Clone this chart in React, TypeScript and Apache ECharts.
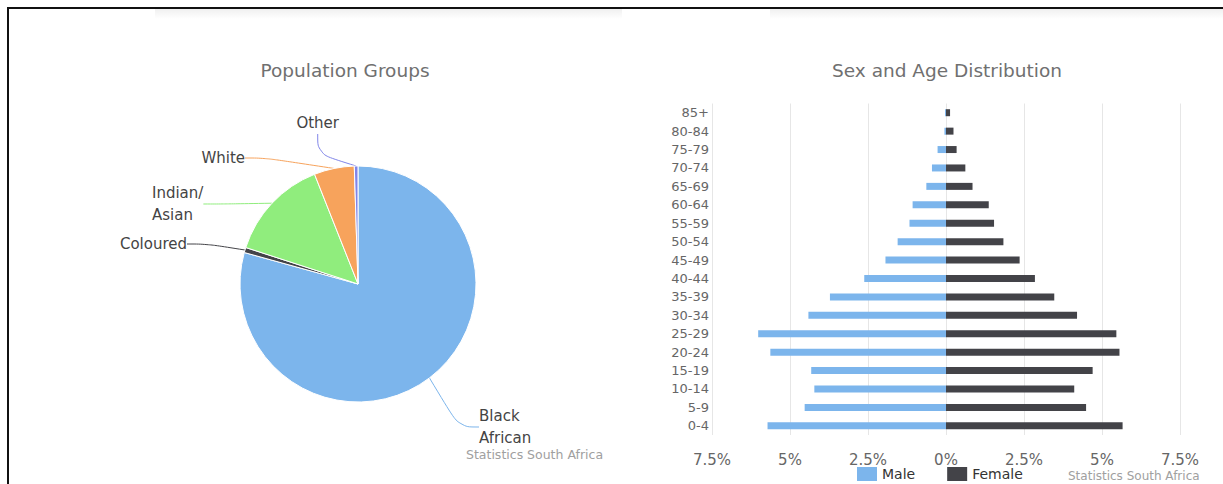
import React, { useEffect, useRef } from "react";
import * as echarts from "echarts";

const PIE_NAMES = ["Black African", "Coloured", "Indian/Asian", "White", "Other"];
const PIE_VALUES = [79.3, 0.7, 14.0, 5.5, 0.5];
const PIE_COLORS = ["#7cb5ec", "#434348", "#90ed7d", "#f7a35c", "#8085e9"];

const AGE_GROUPS = [
  "0-4", "5-9", "10-14", "15-19", "20-24", "25-29", "30-34", "35-39", "40-44",
  "45-49", "50-54", "55-59", "60-64", "65-69", "70-74", "75-79", "80-84", "85+",
];
const MALE = [5.72, 4.53, 4.22, 4.32, 5.63, 6.02, 4.41, 3.72, 2.62, 1.94, 1.55, 1.17, 1.07, 0.63, 0.45, 0.27, 0.05, 0.03];
const FEMALE = [5.66, 4.49, 4.11, 4.7, 5.56, 5.46, 4.2, 3.47, 2.85, 2.36, 1.84, 1.54, 1.37, 0.85, 0.62, 0.34, 0.24, 0.13];
const SERIES_NAMES = ["Male", "Female"];
const SERIES_COLORS = ["#7cb5ec", "#434348"];
const X_MIN = -7.5;
const X_MAX = 7.5;
const X_STEP = 2.5;

const FONT = "'DejaVu Sans', Verdana, sans-serif";

// label placement (text layout) for the pie labels, by slice index
const LABEL_POS = [
  { x: 479, y: 427, align: "left" },
  { x: 187, y: 244, align: "right" },
  { x: 152, y: 204, align: "left" },
  { x: 245, y: 158, align: "right" },
  { x: 339, y: 123, align: "right" },
];

export default function App() {
  const ref = useRef<HTMLDivElement>(null);
  useEffect(() => {
    if (!ref.current) return;
    const chart = echarts.init(ref.current, undefined, { renderer: "svg" });
    const stripFill = () =>
      new echarts.graphic.LinearGradient(0, 0, 0, 1, [
        { offset: 0, color: "rgba(0,0,0,0.06)" },
        { offset: 1, color: "rgba(0,0,0,0)" },
      ]);
    const option: any = {
      animation: false,
      textStyle: { fontFamily: FONT },
      graphic: [
        { type: "rect", shape: { x: 155, y: 9, width: 467, height: 10 }, style: { fill: stripFill() }, silent: true },
        { type: "rect", shape: { x: 770, y: 9, width: 453, height: 10 }, style: { fill: stripFill() }, silent: true },
        {
          type: "text",
          x: 345,
          y: 70,
          style: { text: "Population Groups", fontFamily: FONT, fontSize: 18.5, fill: "#707070", align: "center", verticalAlign: "middle" },
        },
        {
          type: "text",
          x: 947,
          y: 70,
          style: { text: "Sex and Age Distribution", fontFamily: FONT, fontSize: 18.5, fill: "#707070", align: "center", verticalAlign: "middle" },
        },
        {
          type: "text",
          x: 466,
          y: 454,
          style: { text: "Statistics South Africa", fontFamily: FONT, fontSize: 12.5, fill: "#a0a0a0", align: "left", verticalAlign: "middle" },
        },
        {
          type: "text",
          x: 1068,
          y: 476,
          style: { text: "Statistics South Africa", fontFamily: FONT, fontSize: 12, fill: "#a0a0a0", align: "left", verticalAlign: "middle" },
        },
      ],
      legend: {
        data: SERIES_NAMES,
        left: 852,
        top: 462,
        itemWidth: 20,
        itemHeight: 14,
        itemGap: 32,
        icon: "rect",
        textStyle: { fontFamily: FONT, fontSize: 14, color: "#333" },
      },
      grid: { left: 712, right: 43, top: 103.5, bottom: 49 },
      xAxis: {
        type: "value",
        min: X_MIN,
        max: X_MAX,
        interval: X_STEP,
        axisLine: { show: false },
        axisTick: { show: false },
        splitLine: { show: true, lineStyle: { color: "#e6e6e6", width: 1 } },
        axisLabel: {
          color: "#666",
          fontSize: 15,
          margin: 17,
          fontFamily: FONT,
          formatter: (v: number) => `${Math.abs(v)}%`,
        },
      },
      yAxis: {
        type: "category",
        data: AGE_GROUPS,
        axisLine: { show: false },
        axisTick: { show: false },
        axisLabel: { color: "#666", fontSize: 13, margin: 3, fontFamily: FONT },
      },
      series: [
        {
          type: "pie",
          center: [358, 284],
          radius: 118,
          startAngle: 90,
          clockwise: true,
          itemStyle: { borderColor: "#fff", borderWidth: 1 },
          label: {
            show: true,
            fontFamily: FONT,
            fontSize: 15,
            color: "#444",
            lineHeight: 22,
            formatter: (p: any) =>
              p.name === "Black African"
                ? "Black\nAfrican"
                : p.name === "Indian/Asian"
                ? "Indian/\nAsian"
                : p.name,
          },
          labelLine: { show: true, length: 15, length2: 20, smooth: 0.4, lineStyle: { width: 1 } },
          labelLayout: (params: any) => {
            const pos = LABEL_POS[params.dataIndex];
            return { x: pos.x, y: pos.y, align: pos.align, verticalAlign: "middle" };
          },
          data: PIE_NAMES.map((n, i) => ({
            name: n,
            value: PIE_VALUES[i],
            itemStyle: { color: PIE_COLORS[i] },
            labelLine: { lineStyle: { color: PIE_COLORS[i] } },
          })),
        },
        {
          type: "bar",
          name: SERIES_NAMES[0],
          stack: "pop",
          barWidth: 7,
          itemStyle: { color: SERIES_COLORS[0] },
          data: MALE.map((v) => -v),
        },
        {
          type: "bar",
          name: SERIES_NAMES[1],
          stack: "pop",
          barWidth: 7,
          itemStyle: { color: SERIES_COLORS[1] },
          data: FEMALE,
        },
      ],
    };
    chart.setOption(option);
    return () => chart.dispose();
  }, []);

  return (
    <div
      style={{
        position: "fixed",
        left: 0,
        top: 0,
        width: 1223,
        height: 484,
        overflow: "hidden",
        background: "#fff",
      }}
    >
      <div
        style={{
          position: "absolute",
          left: 7,
          top: 7,
          width: 1400,
          height: 700,
          border: "2px solid #111",
          boxSizing: "border-box",
        }}
      />
      <div ref={ref} style={{ position: "absolute", left: 0, top: 0, width: 1223, height: 484 }} />
    </div>
  );
}
